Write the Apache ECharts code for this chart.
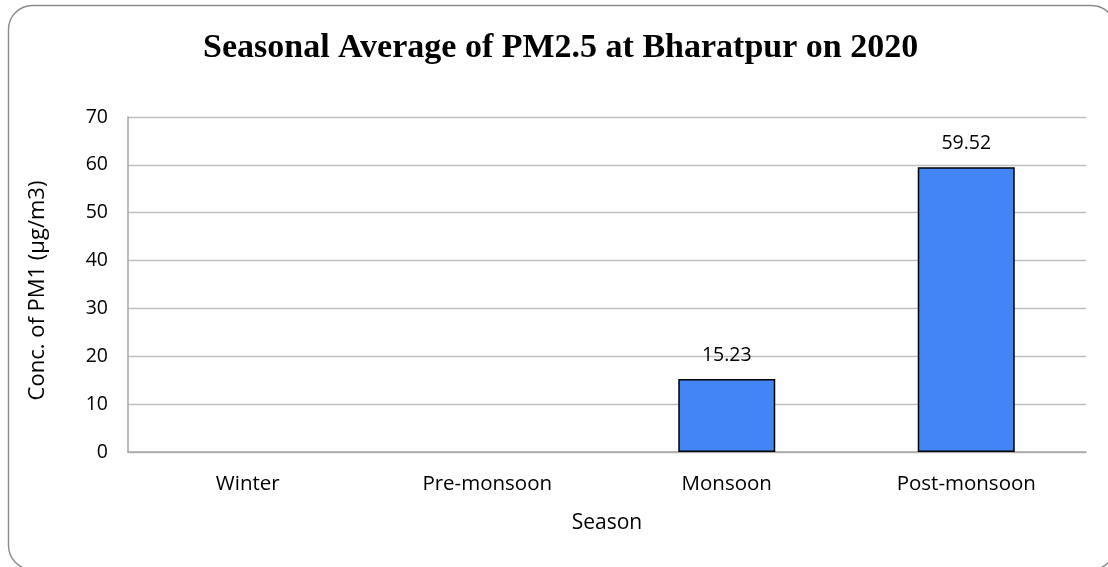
<!DOCTYPE html>
<html><head><meta charset="utf-8">
<script src="https://cdn.jsdelivr.net/npm/echarts@6/dist/echarts.min.js"></script>
<style>html,body{margin:0;padding:0;background:#fff}#c{width:1108px;height:567px}</style>
</head><body><div id="c"></div>
<script>
const categories = ["Winter", "Pre-monsoon", "Monsoon", "Post-monsoon"];
const values = [null, null, 15.23, 59.52];
const yTicks = [0, 10, 20, 30, 40, 50, 60, 70];

const chart = echarts.init(document.getElementById('c'));
chart.setOption({
  animation: false,
  backgroundColor: '#fff',
  title: {
    text: 'Seasonal Average of PM2.5 at Bharatpur on 2020',
    left: 198, top: 26, itemGap: 0,
    textStyle: { fontFamily: 'Liberation Serif', fontWeight: 'bold', fontSize: 34, color: '#000' }
  },
  graphic: [{
    type: 'rect', shape: { x: 8.5, y: 5.5, width: 1107, height: 564, r: 24 },
    style: { fill: 'none', stroke: '#8c8c8c', lineWidth: 1.4 }, z: 100
  }],
  grid: { left: 128, right: 22, top: 117, bottom: 115 },
  xAxis: {
    type: 'category', data: categories,
    name: 'Season', nameLocation: 'middle', nameGap: 61,
    nameTextStyle: { fontFamily: 'Open Sans', fontSize: 21, color: '#000' },
    axisLine: { lineStyle: { color: '#a6a6a6', width: 1.5 } },
    axisTick: { show: false },
    axisLabel: { fontFamily: 'Open Sans', fontSize: 20.5, color: '#000', margin: 22 }
  },
  yAxis: {
    type: 'value', min: yTicks[0], max: yTicks[yTicks.length - 1], interval: 10,
    name: 'Conc. of PM1 (µg/m3)', nameLocation: 'middle', nameGap: 79,
    nameTextStyle: { fontFamily: 'Open Sans', fontSize: 22, color: '#000', padding: [0, 12, 0, 0] },
    axisLine: { show: true, lineStyle: { color: '#a6a6a6', width: 1.5 } },
    axisTick: { show: false },
    axisLabel: { fontFamily: 'Open Sans', fontSize: 19.5, color: '#000', margin: 20 },
    splitLine: { lineStyle: { color: '#bfbfbf', width: 1.3 } }
  },
  series: [{
    type: 'bar', data: values, barWidth: '40.5%',
    itemStyle: { color: '#4285F4', borderColor: '#000', borderWidth: 1.5 },
    label: { show: true, position: 'top', distance: 14, fontFamily: 'Open Sans', fontSize: 19.5, color: '#000',
      formatter: p => p.value == null ? '' : p.value.toFixed(2) }
  }]
});
</script></body></html>
